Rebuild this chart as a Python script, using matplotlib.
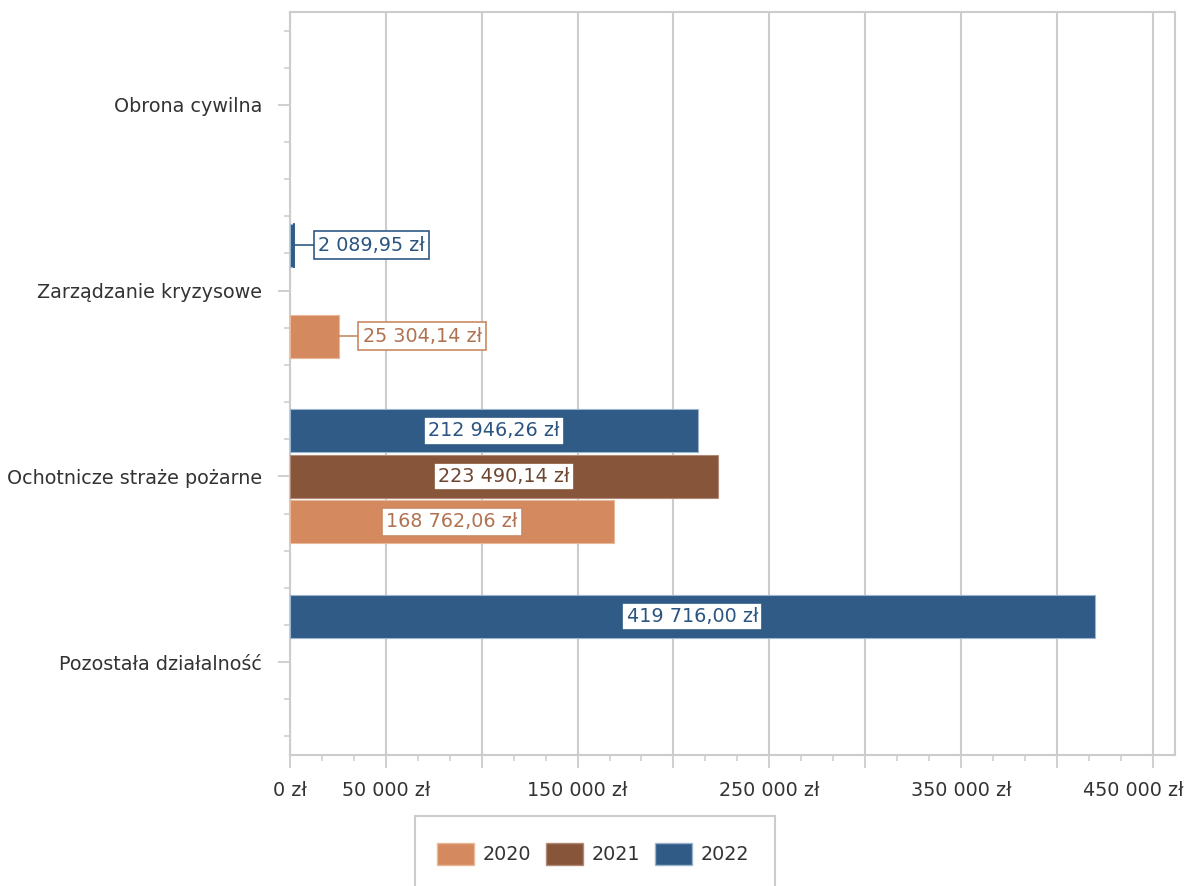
import matplotlib
matplotlib.use("Agg")
import matplotlib.pyplot as plt
from matplotlib.patches import Rectangle, Patch
import numpy as np

categories = ["Pozostała działalność", "Ochotnicze straże pożarne", "Zarządzanie kryzysowe", "Obrona cywilna"]
years = ["2020", "2021", "2022"]
values_2020 = [None, 168762.06, 25304.14, None]
values_2021 = [None, 223490.14, None, None]
values_2022 = [419716.00, 212946.26, 2089.95, None]
tick_values = [0, 50000, 100000, 150000, 200000, 250000, 300000, 350000, 400000, 450000]
tick_labels = ["0 zł", "50 000 zł", "", "150 000 zł", "", "250 000 zł", "", "350 000 zł", "", "450 000 zł"]

bar_colors = ["#D4895E", "#87553A", "#2F5B86"]
edge_colors = ["#E8B898", "#B08A76", "#9CB4CC"]
text_colors = ["#B07250", "#6E4530", "#2B5580"]
box_edges = ["#C98A62", "#87553A", "#2F5B86"]

plt.rcParams['font.family'] = ['DejaVu Sans']
fig = plt.figure(figsize=(11.86, 8.86), dpi=100)
ax = fig.add_axes([290/1186, 1-755/886, (1175-290)/1186, (755-12)/886])

offsets = [-0.245, 0.0, 0.245]
height = 0.232
ypos = np.arange(len(categories))
series = [values_2020, values_2021, values_2022]
fs = 13.8

def fmt(v):
    s = f"{v:,.2f}".replace(",", " ").replace(".", ",")
    return s + " zł"

px_per_val = (1152.7 - 290) / 450000.0
for si, vals in enumerate(series):
    for ci, v in enumerate(vals):
        if v is None:
            continue
        y = ypos[ci] + offsets[si]
        ax.barh(y, v, height=height, color=bar_colors[si], edgecolor=edge_colors[si],
                linewidth=0.8, zorder=3)
        label = fmt(v)
        bbox = dict(boxstyle="square,pad=0.22", fc="white", ec=box_edges[si], lw=1.2)
        if v > 100000:
            ax.text(v / 2, y, label, ha="center", va="center", fontsize=fs,
                    color=text_colors[si], bbox=bbox, zorder=5)
        else:
            gap = 20 / px_per_val
            xl = v + gap
            ax.plot([v, xl], [y, y], color=box_edges[si], lw=1.2, zorder=4)
            if v < 5000:
                ax.plot([v, v], [y - height / 2, y + height / 2], color=bar_colors[si], lw=1.3, zorder=4)
            ax.text(xl + 4 / px_per_val, y, label, ha="left", va="center", fontsize=fs,
                    color=text_colors[si], bbox=bbox, zorder=5)

ax.set_xlim(0, 461600)
ax.set_ylim(-0.5, 3.5)
ax.set_xticks(tick_values)
# last label is drawn separately, pushed left to stay inside the image as in the reference
ax.set_xticklabels(tick_labels[:-1] + [""], fontsize=fs, color="#333333")
ax.annotate(tick_labels[-1], xy=(tick_values[-1], 0), xycoords=ax.get_xaxis_transform(),
            xytext=(22.5, -19), textcoords="offset points", ha="right", va="top",
            fontsize=fs, color="#333333", annotation_clip=False)
ax.set_xticks(np.arange(0, 461600, 50000 / 3), minor=True)
ax.set_yticks(ypos)
ax.set_yticklabels(categories, fontsize=fs, color="#333333")
minor_y = []
for c in ypos:
    for d in (-0.4, -0.2, 0.2, 0.4):
        minor_y.append(c + d)
ax.set_yticks(minor_y, minor=True)

gc = "#CCCCCC"
ax.grid(axis="x", which="major", color=gc, lw=1.5, zorder=0)
for s in ax.spines.values():
    s.set_color(gc)
    s.set_linewidth(1.5)
ax.tick_params(axis="x", which="major", length=9, width=1.3, color=gc, pad=10)
ax.tick_params(axis="x", which="minor", length=4.5, width=1.1, color=gc)
ax.tick_params(axis="y", which="major", length=9, width=1.3, color=gc, pad=11)
ax.tick_params(axis="y", which="minor", length=4.5, width=1.1, color=gc)

# legend
rect = Rectangle((415/1186, -0.05), (775-415)/1186, 1-816/886+0.05, transform=fig.transFigure,
                 fc="white", ec=gc, lw=1.5)
fig.patches.append(rect)
handles = [Patch(facecolor=bar_colors[i], edgecolor=edge_colors[i], label=years[i]) for i in range(3)]
leg = fig.legend(handles=handles, loc="center", bbox_to_anchor=(593/1186, 1-854/886), ncol=3,
                 frameon=False, fontsize=fs, handlelength=1.9, handleheight=1.4,
                 handletextpad=0.45, columnspacing=0.8)
for t in leg.get_texts():
    t.set_color("#333333")

fig.savefig("out.png", dpi=100)
